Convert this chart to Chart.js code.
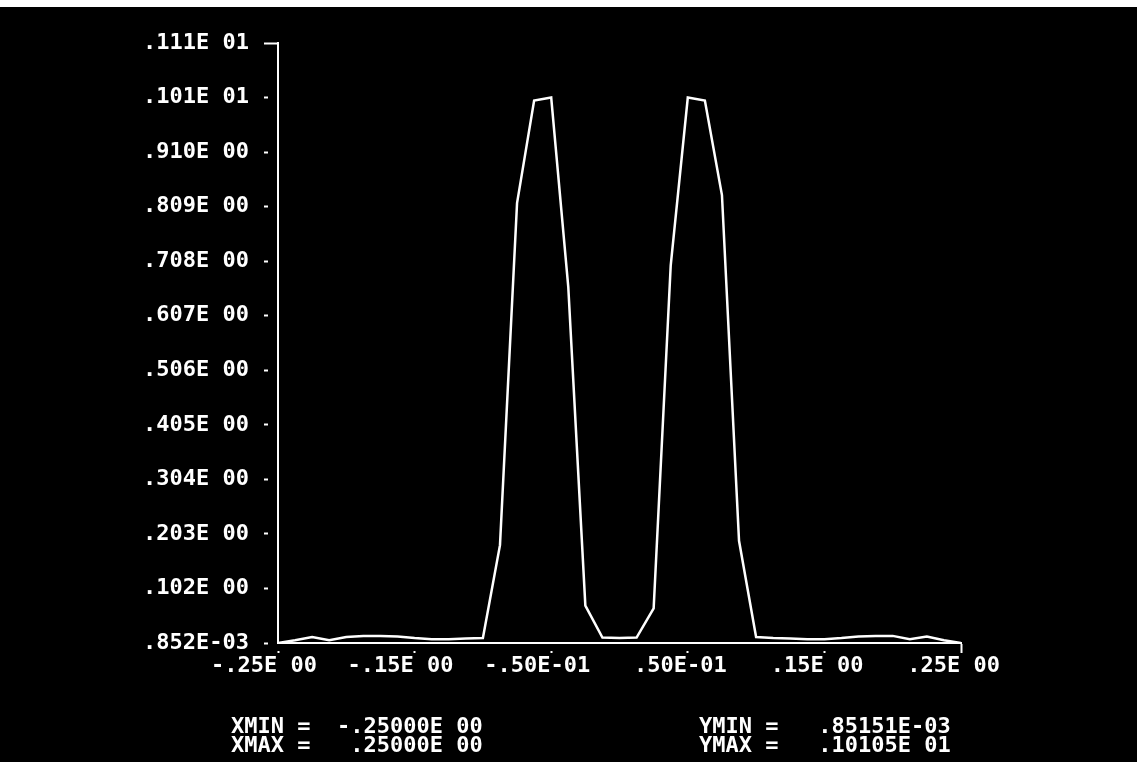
<!DOCTYPE html>
<html><head><meta charset="utf-8">
<script src="https://cdn.jsdelivr.net/npm/chart.js@4.4.0/dist/chart.umd.min.js"></script>
<style>
html,body{margin:0;padding:0;background:#fff;width:1137px;height:762px;overflow:hidden;}
#wrap{position:absolute;left:0;top:7px;width:1137px;height:755px;background:#000;}
canvas{display:block;}
</style></head><body>
<div id="wrap"><canvas id="c" width="1137" height="755"></canvas></div>
<script>
// sample positions (x) and plotted values (y)
const xValues = [-0.25,-0.2375,-0.225,-0.2125,-0.2,-0.1875,-0.175,-0.1625,-0.15,-0.1375,-0.125,-0.1125,-0.1,-0.0875,-0.075,-0.0625,-0.05,-0.0375,-0.025,-0.0125,0,0.0125,0.025,0.0375,0.05,0.0625,0.075,0.0875,0.1,0.1125,0.125,0.1375,0.15,0.1625,0.175,0.1875,0.2,0.2125,0.225,0.2375,0.25];
const yValues = [0.00085151,0.006,0.012,0.006,0.012,0.014,0.014,0.013,0.010,0.008,0.008,0.009,0.010,0.182,0.815,1.005,1.0105,0.66,0.07,0.011,0.010,0.011,0.065,0.70,1.0105,1.005,0.83,0.19,0.012,0.010,0.009,0.008,0.008,0.010,0.013,0.014,0.014,0.008,0.013,0.006,0.00085151];

const xTickValues = [-0.25,-0.15,-0.05,0.05,0.15,0.25];
const xTickLabels = ['-.25E 00','-.15E 00','-.50E-01',' .50E-01',' .15E 00',' .25E 00'];
const yTickValues = [0.00085151,0.10181636,0.20278121,0.30374606,0.40471091,0.50567576,0.60664061,0.70760546,0.80857031,0.90953516,1.0105,1.11146486];
const yTickLabels = ['.852E-03','.102E 00','.203E 00','.304E 00','.405E 00','.506E 00','.607E 00','.708E 00','.809E 00','.910E 00','.101E 01','.111E 01'];
const statLeft = ['XMIN =  -.25000E 00','XMAX =   .25000E 00'];
const statRight = ['YMIN =   .85151E-03','YMAX =   .10105E 01'];

const FONT = {family:'DejaVu Sans Mono', size:22, weight:'bold'};

const statPlugin = {
  id:'stats',
  afterDraw(chart){
    const ctx = chart.ctx;
    ctx.save();
    ctx.fillStyle = '#fff';
    ctx.font = 'bold 22px "DejaVu Sans Mono"';
    ctx.textBaseline = 'middle';
    ctx.textAlign = 'left';
    const rows = [720, 739];
    statLeft.forEach((t,i)=>ctx.fillText(t, 231, rows[i]));
    statRight.forEach((t,i)=>ctx.fillText(t, 699, rows[i]));
    ctx.restore();
  }
};

new Chart(document.getElementById('c'), {
  type:'line',
  data:{datasets:[{
    data: xValues.map((x,i)=>({x:x, y:yValues[i]})),
    borderColor:'#fff', borderWidth:2.5, pointRadius:0, tension:0, fill:false
  }]},
  options:{
    responsive:false, animation:false, devicePixelRatio:1,
    layout:{padding:{left:143, top:36, right:176, bottom:79}},
    plugins:{legend:{display:false}, tooltip:{enabled:false}},
    scales:{
      x:{
        type:'linear', min:-0.25, max:0.25,
        afterBuildTicks:s=>{ s.ticks = xTickValues.map(v=>({value:v})); },
        afterFit:s=>{ s.height = 40; },
        ticks:{color:'#fff', font:FONT, labelOffset:-14, padding:0, maxRotation:0, autoSkip:false,
          callback:(v,i)=>xTickLabels[i]},
        grid:{display:true, drawOnChartArea:false, drawTicks:true, tickLength:10, tickColor:'#fff', tickWidth:2,
          tickBorderDash:c=> c.index===5 ? [] : [0,7,3,10]},
        border:{display:true, color:'#fff', width:2, dash:[10,5]}
      },
      y:{
        type:'linear', min:0.00085151, max:1.11146486,
        afterBuildTicks:s=>{ s.ticks = yTickValues.map(v=>({value:v})); },
        afterFit:s=>{ s.width = 135; },
        ticks:{color:'#fff', font:FONT, crossAlign:'far', padding:0, autoSkip:false,
          callback:(v,i)=>yTickLabels[i]},
        grid:{display:true, drawOnChartArea:false, drawTicks:true, tickLength:14, tickColor:'#fff', tickWidth:2,
          tickBorderDash:c=> c.index===11 ? [] : [4,20]},
        border:{display:true, color:'#fff', width:2}
      }
    }
  },
  plugins:[statPlugin]
});
</script>
</body></html>
